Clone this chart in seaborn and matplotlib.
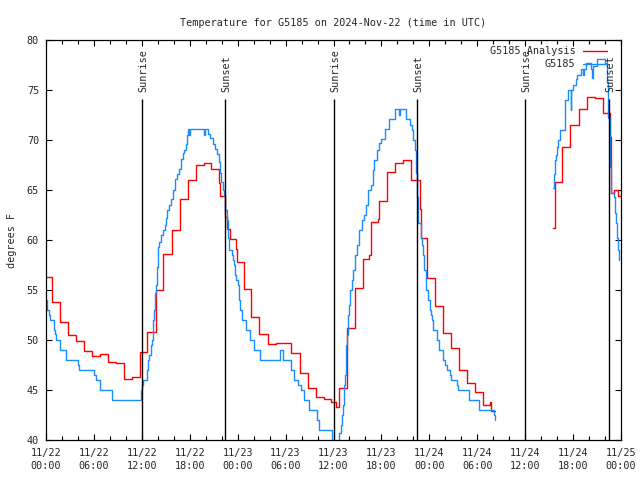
import numpy as np
import pandas as pd
import matplotlib
matplotlib.use("Agg")
import matplotlib.pyplot as plt
import seaborn as sns

# x values are hours since 2024-11-22 00:00 UTC, steps held until next value
analysis_hours_1 = [0.0, 0.75, 1.72, 2.75, 3.71, 4.75, 5.70, 6.76, 7.76, 8.76, 9.76, 10.80,
                    11.76, 12.68, 13.73, 14.69, 15.73, 16.77, 17.81, 18.77, 19.77, 20.70,
                    21.65, 21.82, 22.40, 22.70, 23.03, 23.78, 23.94, 24.80, 25.70, 26.70,
                    27.74, 28.78, 30.70, 31.75, 32.79, 33.79, 34.75, 35.70, 36.30, 36.65,
                    37.70, 38.70, 39.70, 40.45, 40.70, 41.55, 41.70, 42.70, 43.70, 44.70,
                    45.70, 46.80, 46.95, 47.70, 48.70, 49.70, 50.70, 51.70, 52.70, 53.70,
                    54.70, 55.57, 55.78, 56.20]
analysis_temp_1 = [56.27, 53.77, 51.77, 50.47, 49.9, 48.87, 48.37, 48.57, 47.77, 47.67, 46.07, 46.33,
                   48.83, 50.77, 54.97, 58.57, 61.0, 64.07, 65.97, 67.47, 67.67, 67.13,
                   65.67, 64.4, 62.33, 61.1, 60.1, 59.07, 57.77, 55.07, 52.27, 50.6,
                   49.57, 49.7, 48.73, 46.67, 45.23, 44.33, 44.1, 43.83, 43.33, 45.2,
                   51.17, 55.17, 58.07, 58.5, 61.83, 62.1, 63.9, 66.83, 67.73, 67.97,
                   66.0, 63.07, 60.17, 56.17, 53.37, 50.67, 49.2, 46.97, 45.67, 44.83,
                   43.5, 43.77, 42.85, 42.85]
analysis_hours_2 = [63.50, 63.70, 64.60, 65.66, 66.75, 67.75, 68.75, 69.75, 70.60, 70.75,
                    71.15, 71.65, 71.85]
analysis_temp_2 = [61.17, 65.83, 69.27, 71.47, 73.07, 74.33, 74.17, 72.73, 70.3, 64.67,
                   65.0, 64.4, 64.4]

obs_hours_1 = [0.0, 0.15, 0.40, 0.50, 0.95, 1.10, 1.25, 1.70, 1.78, 2.50, 4.04, 4.17, 6.05,
               6.22, 6.76, 8.30, 11.85, 11.95, 12.05, 12.10, 12.60, 12.77, 12.93, 13.14,
               13.27, 13.40, 13.52, 13.64, 13.77, 13.85, 13.98, 14.14, 14.39, 14.69, 14.90,
               15.02, 15.18, 15.43, 15.69, 15.94, 16.10, 16.35, 16.69, 16.86, 17.11, 17.30,
               17.48, 17.69, 17.81, 17.90, 18.00, 19.80, 19.88, 20.30, 20.50, 20.85, 21.15,
               21.45, 21.65, 21.78, 21.94, 22.11, 22.28, 22.45, 22.61, 22.78, 22.94, 23.25,
               23.40, 23.53, 23.70, 23.82, 23.99, 24.12, 24.32, 24.57, 25.03, 25.57, 26.07,
               26.82, 29.33, 29.70, 30.62, 31.08, 31.54, 31.88, 32.25, 32.95, 33.90, 34.13,
               35.80, 36.67, 36.88, 37.05, 37.20, 37.30, 37.42, 37.51, 37.63, 37.76, 37.92,
               38.05, 38.26, 38.46, 38.67, 38.89, 39.21, 39.51, 39.80, 40.05, 40.34, 40.64,
               40.89, 41.09, 41.39, 41.72, 42.01, 42.43, 42.97, 43.68, 44.20, 44.30, 45.14,
               45.56, 45.77, 45.97, 46.22, 46.39, 46.51, 46.64, 46.93, 47.06, 47.22, 47.35,
               47.52, 47.64, 47.85, 48.06, 48.18, 48.35, 48.48, 48.90, 49.02, 49.23, 49.73,
               50.02, 50.23, 50.56, 50.77, 51.52, 51.65, 52.98, 54.23, 56.05, 56.20]
obs_temp_1 = [54.0, 53.0, 52.47, 51.97, 50.97, 50.6, 49.97, 49.47, 48.97, 48.0, 47.5, 47.0, 46.5,
              46.0, 45.0, 44.0, 44.5, 45.0, 45.5, 46.0, 47.0, 48.0, 48.5, 49.5,
              50.0, 52.0, 53.0, 54.67, 55.5, 57.33, 59.33, 59.83, 60.5, 61.0, 61.5,
              62.17, 63.0, 63.5, 64.07, 65.0, 66.07, 66.6, 67.07, 68.07, 68.67, 69.0,
              69.6, 70.5, 71.07, 70.5, 71.07, 70.5, 71.07, 70.6, 70.17, 69.6, 69.07,
              68.6, 67.8, 66.67, 65.8, 65.0, 64.5, 63.0, 62.0, 60.17, 59.0, 58.5,
              58.0, 57.5, 56.5, 56.0, 55.5, 54.0, 53.0, 52.0, 51.0, 50.0, 49.0,
              48.0, 49.0, 48.0, 47.0, 46.0, 45.5, 45.0, 44.0, 43.0, 42.0, 41.0,
              39.0, 40.67, 41.5, 42.5, 43.5, 45.5, 46.5, 49.5, 50.5, 52.5, 53.5,
              55.0, 56.0, 57.0, 58.5, 59.5, 61.0, 62.0, 62.5, 63.5, 65.0, 65.5,
              67.0, 68.0, 69.0, 69.67, 70.07, 71.07, 72.07, 73.07, 72.5, 73.07, 72.07,
              71.5, 71.0, 70.0, 69.0, 66.67, 64.33, 61.67, 60.17, 59.5, 58.5, 57.0,
              56.5, 55.0, 54.0, 53.0, 52.5, 52.0, 51.0, 50.5, 50.0, 49.0, 48.0,
              47.5, 47.0, 46.5, 46.0, 45.5, 45.0, 44.0, 43.0, 42.5, 42.0]
obs_hours_2 = [63.49, 63.60, 63.70, 63.83, 63.95, 64.12, 64.33, 64.95, 65.05, 65.40, 65.70,
               65.78, 66.00, 66.33, 66.50, 67.05, 67.30, 67.40, 67.60, 68.20, 68.35, 68.45,
               68.55, 69.00, 69.96, 70.20, 70.35, 70.60, 70.68, 70.80, 71.10, 71.20, 71.33,
               71.50, 71.62, 71.70, 71.72]
obs_temp_2 = [65.17, 66.6, 68.0, 68.5, 69.3, 70.0, 71.0, 72.5, 74.0, 75.0, 73.0,
              75.0, 75.5, 76.07, 76.5, 77.07, 76.5, 77.07, 77.73, 77.07, 76.2, 77.07,
              77.4, 78.07, 77.73, 75.8, 72.2, 70.8, 67.3, 64.67, 64.33, 62.67, 61.67,
              60.17, 59.0, 58.0, 58.0]

sunrise_hours = [12.06, 36.06, 60.02]
sunset_hours = [22.45, 46.48, 70.53]

tick_hours = list(range(0, 73, 6))
tick_labels = ["11/22\n00:00", "11/22\n06:00", "11/22\n12:00", "11/22\n18:00",
               "11/23\n00:00", "11/23\n06:00", "11/23\n12:00", "11/23\n18:00",
               "11/24\n00:00", "11/24\n06:00", "11/24\n12:00", "11/24\n18:00",
               "11/25\n00:00"]

sns.set_theme(style="ticks")
plt.rcParams['font.family'] = ['DejaVu Sans Mono', 'DejaVu Sans']
fs = 7.3

fig = plt.figure(figsize=(6.4, 4.8), dpi=100)
ax = fig.add_axes([46 / 640, 40 / 480, 575 / 640, 400 / 480])

red = "#ff0000"
blue = "#1a8cff"

sns.lineplot(x=analysis_hours_1, y=analysis_temp_1, drawstyle="steps-post", estimator=None,
             sort=False, color=red, lw=1.0, ax=ax, label="G5185 Analysis", legend=False)
sns.lineplot(x=analysis_hours_2, y=analysis_temp_2, drawstyle="steps-post", estimator=None,
             sort=False, color=red, lw=1.0, ax=ax, label="_nolegend_", legend=False)
sns.lineplot(x=obs_hours_1, y=obs_temp_1, drawstyle="steps-post", estimator=None,
             sort=False, color=blue, lw=1.0, ax=ax, label="G5185", legend=False)
sns.lineplot(x=obs_hours_2, y=obs_temp_2, drawstyle="steps-post", estimator=None,
             sort=False, color=blue, lw=1.0, ax=ax, label="_nolegend_", legend=False)

# sunrise / sunset markers
line_top = 74.13
for h in sunrise_hours:
    ax.vlines(h, 40, line_top, color="black", lw=1.0)
    ax.text(h + 0.12, 74.75, "Sunrise", rotation=90, ha="center", va="bottom", fontsize=fs)
for h in sunset_hours:
    ax.vlines(h, 40, line_top, color="black", lw=1.0)
    ax.text(h + 0.12, 74.75, "Sunset", rotation=90, ha="center", va="bottom", fontsize=fs)

ax.set_xlim(0, 72)
ax.set_ylim(40, 80)
ax.set_xticks(tick_hours)
ax.set_xticklabels(tick_labels, fontsize=fs, linespacing=1.3)
ax.set_xticks(np.arange(0, 73, 2), minor=True)
ax.set_yticks(np.arange(40, 81, 5))
ax.set_yticklabels([str(v) for v in range(40, 81, 5)], fontsize=fs)
ax.tick_params(which="both", direction="in", top=True, right=True, color="black", width=0.8)
ax.tick_params(which="major", length=4.5)
ax.tick_params(which="minor", length=3)
ax.tick_params(axis="x", which="major", pad=6)
ax.tick_params(axis="y", which="major", pad=5)
for s in ax.spines.values():
    s.set_color("black")
    s.set_linewidth(0.9)

ax.set_xlabel("")
ax.set_ylabel("degrees F", fontsize=fs)
ax.yaxis.set_label_coords(-0.051, 0.5)
ax.set_title("Temperature for G5185 on 2024-Nov-22 (time in UTC)", fontsize=fs, pad=10)

ax.legend(loc="upper right", bbox_to_anchor=(1 - 8 / 575, 1), frameon=False, fontsize=fs,
          markerfirst=False, handlelength=2.4, handletextpad=0.7, labelspacing=0.3,
          borderaxespad=0.3, borderpad=0.3)

fig.savefig("out.png", dpi=100)
